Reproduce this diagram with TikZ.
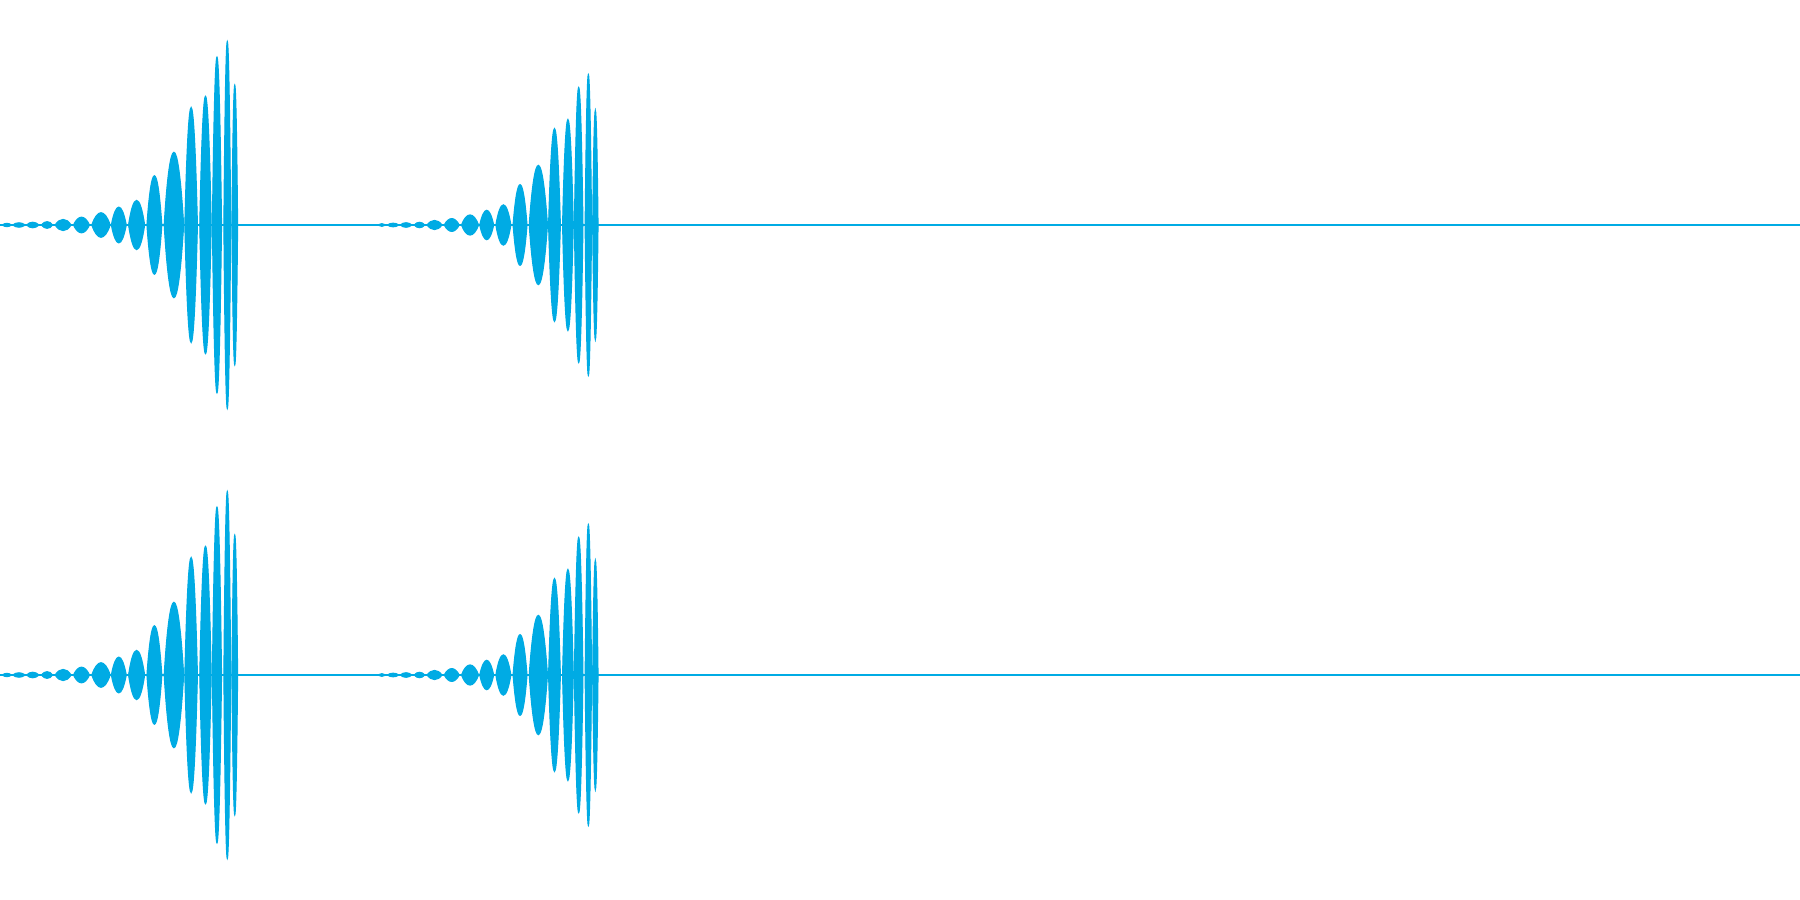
\documentclass[tikz,border=0pt]{standalone}
\definecolor{wave}{RGB}{0,171,228}
\begin{document}
\begin{tikzpicture}[x=0.011480cm,y=-0.011480cm]
  \tikzstyle{base}=[wave, line width=0.5pt]
  \tikzstyle{lobe}=[fill=wave, draw=wave, line width=0.3pt]
  \useasboundingbox (0,0) rectangle (1568,784);

  % one channel per row, two bursts each
  \foreach \row in {196,588} {
    \coordinate (left\row) at (0,\row);
    \coordinate (right\row) at (1568,\row);
    \draw[base] (left\row) -- (right\row);
    \foreach \off/\sx/\sy in {0/1/1, 327/0.937/0.82} {
      \foreach \a/\b/\h in {2/10/1.5, 11/22/2, 23/34/2.5, 36/46/3, 48/62/5, 64/78/7,
                            80/96/11, 97/110/16, 112/126/22, 128/141/44,
                            143/160/65, 161/172/105, 174/184/115, 185/193/150,
                            195/201/164, 202/207/125} {
        \fill[lobe] (\off+\a*\sx,\row) .. controls (\off+\a*\sx+0.3*\b*\sx-0.3*\a*\sx,\row-\h*\sy*1.3)
          and (\off+\b*\sx-0.3*\b*\sx+0.3*\a*\sx,\row-\h*\sy*1.3) .. (\off+\b*\sx,\row)
          .. controls (\off+\b*\sx-0.3*\b*\sx+0.3*\a*\sx,\row+\h*\sy*1.3)
          and (\off+\a*\sx+0.3*\b*\sx-0.3*\a*\sx,\row+\h*\sy*1.3) .. cycle;
      }
    }
  }
\end{tikzpicture}
\end{document}
